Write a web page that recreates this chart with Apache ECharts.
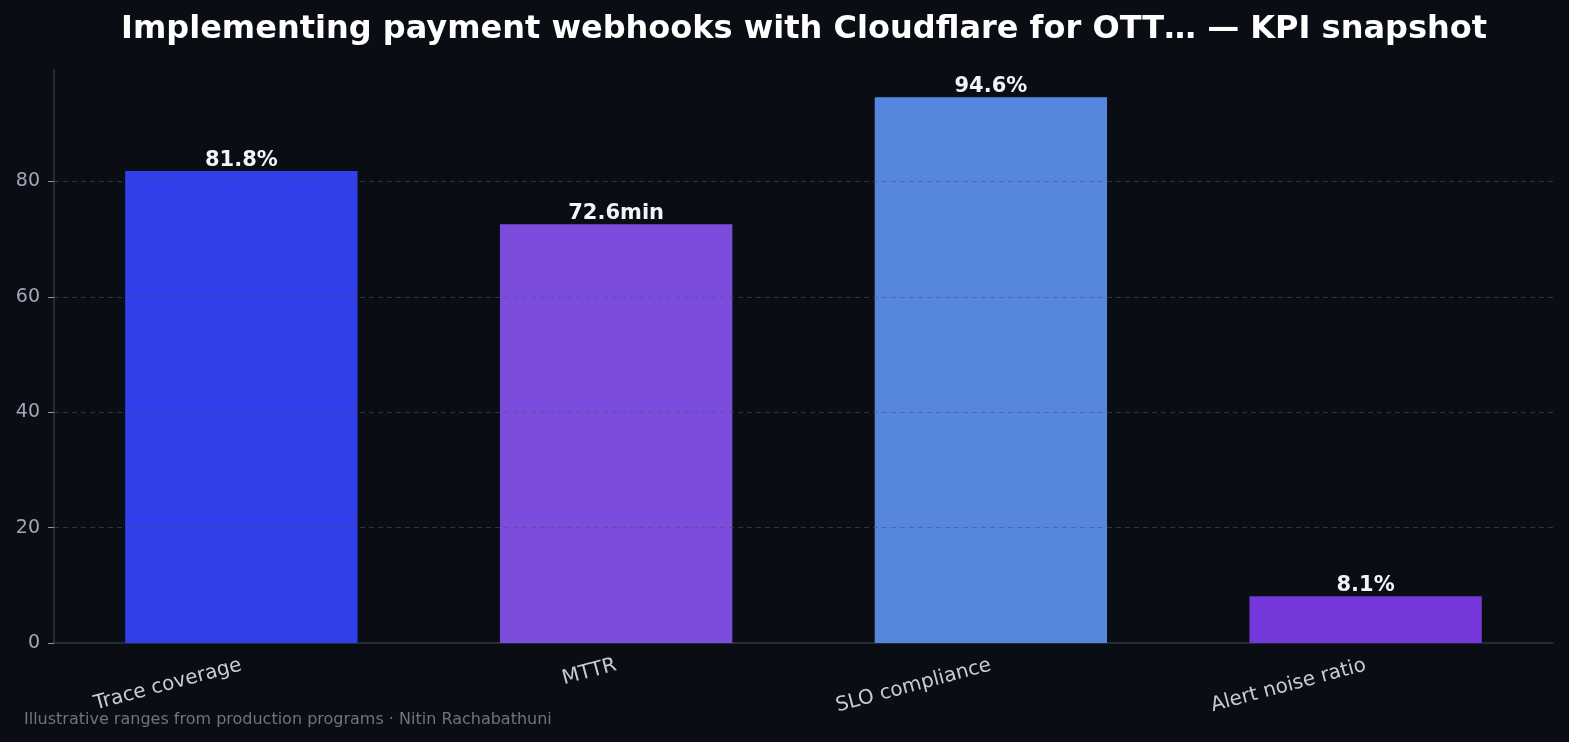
<!DOCTYPE html>
<html>
<head>
<meta charset="utf-8">
<script src="https://cdn.jsdelivr.net/npm/echarts@6/dist/echarts.min.js"></script>
<style>
  html, body { margin: 0; padding: 0; background: #0a0d14; }
  #chart { width: 1569px; height: 742px; }
</style>
</head>
<body>
<div id="chart"></div>
<script>
const categories = ['Trace coverage', 'MTTR', 'SLO compliance', 'Alert noise ratio']
const values = [81.8, 72.6, 94.6, 8.1]
const units = ['%', 'min', '%', '%']
const barColors = ['#2f40eb', '#7c4ddc', '#5686de', '#7437d9']
const yTicks = [20, 40, 60, 80]

const chart = echarts.init(document.getElementById('chart'))
const font = 'DejaVu Sans'

chart.setOption({
  backgroundColor: '#0a0d14',
  animation: false,
  textStyle: { fontFamily: font },
  title: {
    text: 'Implementing payment webhooks with Cloudflare for OTT… — KPI snapshot',
    left: 116,
    top: 9,
    textStyle: { color: '#ffffff', fontSize: 32, fontWeight: 'bold', fontFamily: font }
  },
  graphic: [{
    type: 'text',
    left: 24,
    top: 712,
    style: {
      text: 'Illustrative ranges from production programs · Nitin Rachabathuni',
      fill: '#6b7585',
      fontSize: 16,
      fontFamily: font
    }
  }],
  grid: { left: 54, right: 16, top: 70, bottom: 99 },
  xAxis: {
    type: 'category',
    data: categories,
    axisLine: { lineStyle: { color: '#2e3644', width: 1.5 } },
    axisTick: { alignWithLabel: true, length: 5, lineStyle: { color: '#000000' } },
    axisLabel: { rotate: 15, color: '#c8ccd4', fontSize: 20, margin: 22, fontFamily: font }
  },
  yAxis: {
    type: 'value',
    min: 0,
    max: 99.33,
    interval: 20,
    axisLine: { show: true, lineStyle: { color: '#2e3644', width: 1.5 } },
    axisTick: { show: true, length: 6, lineStyle: { color: '#8a93a3' } },
    axisLabel: { color: '#a0a8b8', fontSize: 19, showMaxLabel: false, margin: 14, fontFamily: font },
    splitLine: { show: false }
  },
  series: [{
    type: 'bar',
    barWidth: '62%',
    data: values.map((v, i) => ({ value: v, itemStyle: { color: barColors[i] } })),
    label: {
      show: true,
      position: 'top',
      distance: 0,
      color: '#f2f4f8',
      fontSize: 21,
      fontWeight: 'bold',
      fontFamily: font,
      formatter: p => p.value + units[p.dataIndex]
    }
  }, {
    type: 'line',
    data: [],
    z: 10,
    markLine: {
      silent: true,
      symbol: 'none',
      label: { show: false },
      lineStyle: { color: 'rgba(70,85,110,0.55)', type: [5, 4], width: 1.2 },
      data: yTicks.map(t => ({ yAxis: t }))
    }
  }]
})
</script>
</body>
</html>
